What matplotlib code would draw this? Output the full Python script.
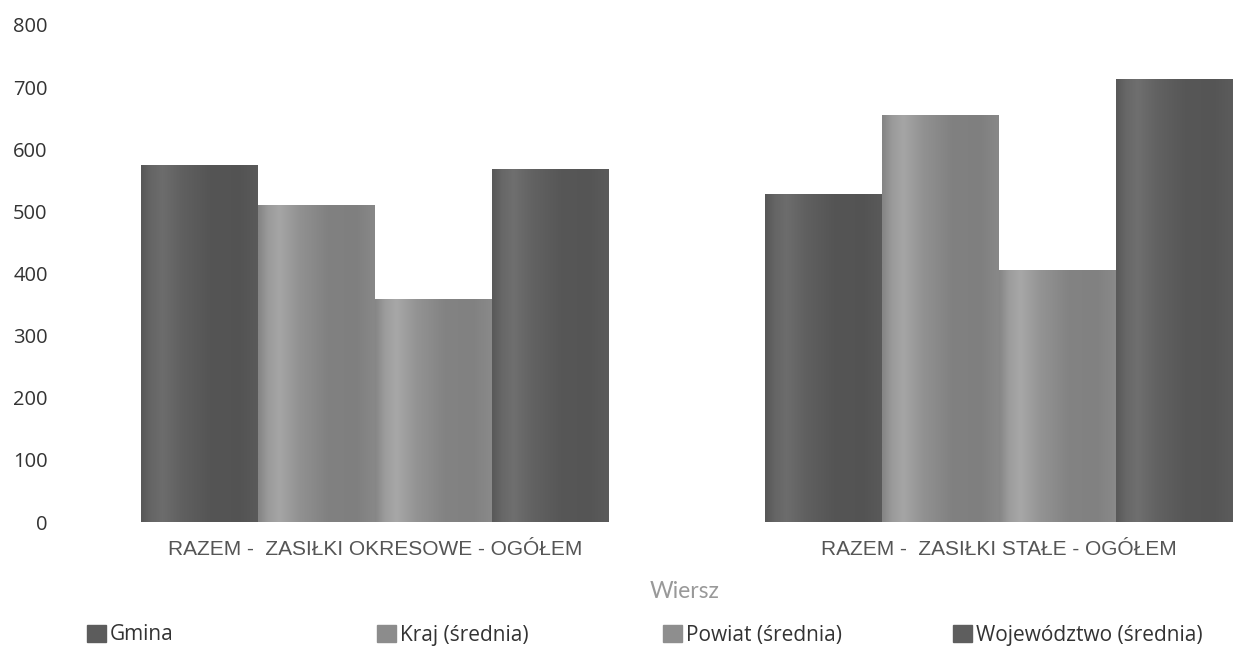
import matplotlib
matplotlib.use("Agg")
import matplotlib.pyplot as plt
import numpy as np
from matplotlib.patches import Patch

plt.rcParams['font.family'] = ['Open Sans', 'DejaVu Sans']

# Data
categories = ["RAZEM -  ZASIŁKI OKRESOWE - OGÓŁEM", "RAZEM -  ZASIŁKI STAŁE - OGÓŁEM"]
series = ["Gmina", "Kraj (średnia)", "Powiat (średnia)", "Województwo (średnia)"]
gmina = [575, 528]
kraj = [510, 655]
powiat = [359, 406]
wojewodztwo = [568, 713]
values = [gmina, kraj, powiat, wojewodztwo]
colors = ["#5c5c5c", "#8c8c8c", "#8e8e8e", "#5e5e5e"]

fig = plt.figure(figsize=(12.33, 6.47), dpi=100)
ax = fig.add_axes([63 / 1233, 125 / 647, 1170 / 1233, 497 / 647])

x = np.arange(len(categories))
w = 0.75 / len(series)

# shading profile across a bar (cylinder look)
pos = np.linspace(0, 1, 64)
shade = np.interp(pos, [0, 0.08, 0.18, 0.35, 0.6, 0.85, 1.0],
                  [0.95, 1.1, 1.18, 1.04, 0.92, 0.91, 0.97])

for i, (name, vals, col) in enumerate(zip(series, values, colors)):
    bars = ax.bar(x - 0.375 + w * (i + 0.5), vals, width=w, color=col,
                  label=name, zorder=2)
    base = np.array(matplotlib.colors.to_rgb(col))
    grad = np.clip(base[None, :] * shade[:, None], 0, 1)[None, :, :]
    for b in bars:
        x0, y0 = b.get_x(), b.get_y()
        im = ax.imshow(grad, extent=[x0, x0 + b.get_width(), y0, y0 + b.get_height()],
                       aspect='auto', zorder=3, interpolation='bilinear')
        im.set_clip_path(b)

ax.set_xlim(-0.5, 1.375)
ax.set_ylim(0, 800)
ax.set_yticks(range(0, 801, 100))
ax.set_xticks(x)
ax.set_xticklabels(categories, fontsize=15, color="#555555", family='Liberation Sans')
ax.tick_params(axis='y', labelsize=14.5, labelcolor="#333333", length=0, pad=11)
ax.tick_params(axis='x', length=0, pad=13)
for s in ax.spines.values():
    s.set_visible(False)

fig.text(685 / 1233, 1 - 591 / 647, "Wiersz", ha='center', va='center',
         fontsize=16.5, color="#999999", family='Lato')

leg_x = [87, 377, 663, 953]
for lx, name, col in zip(leg_x, series, colors):
    fig.legend(handles=[Patch(color=col)], labels=[name], loc='center left',
               bbox_to_anchor=(lx / 1233, 1 - 635 / 647), frameon=False,
               fontsize=15, labelcolor="#333333", handlelength=0.9,
               handleheight=0.9, handletextpad=0.2, borderpad=0,
               borderaxespad=0)

fig.savefig("out.png", dpi=100, facecolor="white")
